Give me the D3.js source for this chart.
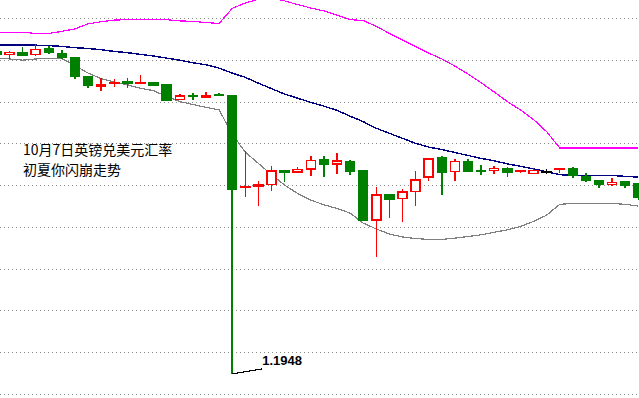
<!DOCTYPE html>
<html>
<head>
<meta charset="utf-8">
<script src="https://cdn.jsdelivr.net/npm/d3@7"></script>
<style>
  html, body { margin: 0; padding: 0; background: #fff; }
  svg { display: block; }
</style>
</head>
<body>
<svg id="chart" width="639" height="398"></svg>
<script>
// GBP/USD hourly bars around the 7 Oct flash crash
const opens = [
  1.2719, 1.2713, 1.2716, 1.2713, 1.2726, 1.2714, 1.2704, 1.2660, 1.2637, 1.2643,
  1.2648, 1.2643, 1.2645, 1.2640, 1.2605, 1.2614, 1.2611, 1.2617, 1.2614, 1.2394,
  1.2398, 1.2401, 1.2435, 1.2431, 1.2438, 1.2460, 1.2450, 1.2455, 1.2434, 1.2316,
  1.2376, 1.2368, 1.2385, 1.2419, 1.2466, 1.2433, 1.2455, 1.2434, 1.2435, 1.2439,
  1.2433, 1.2428, 1.2432, 1.2437, 1.2439, 1.2420, 1.2410, 1.2402, 1.2408, 1.2403
];
const highs = [
  1.2723, 1.2721, 1.2731, 1.2738, 1.2734, 1.2723, 1.2706, 1.2660, 1.2657, 1.2653,
  1.2656, 1.2664, 1.2645, 1.2640, 1.2618, 1.2621, 1.2623, 1.2620, 1.2616, 1.2482,
  1.2411, 1.2446, 1.2435, 1.2443, 1.2470, 1.2470, 1.2477, 1.2460, 1.2434, 1.2395,
  1.2376, 1.2391, 1.2434, 1.2466, 1.2470, 1.2463, 1.2463, 1.2448, 1.2445, 1.2443,
  1.2434, 1.2440, 1.2439, 1.2439, 1.2443, 1.2429, 1.2410, 1.2417, 1.2411, 1.2403
];
const lows = [
  1.2709, 1.2701, 1.2710, 1.2710, 1.2713, 1.2701, 1.2654, 1.2633, 1.2625, 1.2636,
  1.2632, 1.2642, 1.2637, 1.2603, 1.2605, 1.2604, 1.2611, 1.2614, 1.1948, 1.2372,
  1.2351, 1.2387, 1.2408, 1.2431, 1.2423, 1.2420, 1.2427, 1.2424, 1.2315, 1.2229,
  1.2322, 1.2312, 1.2351, 1.2411, 1.2377, 1.2411, 1.2431, 1.2425, 1.2427, 1.2420,
  1.2430, 1.2428, 1.2426, 1.2429, 1.2418, 1.2408, 1.2394, 1.2399, 1.2394, 1.2364
];
const closes = [
  1.2714, 1.2718, 1.2710, 1.2725, 1.2717, 1.2707, 1.2661, 1.2638, 1.2641, 1.2644,
  1.2645, 1.2645, 1.2640, 1.2604, 1.2613, 1.2613, 1.2613, 1.2614, 1.2391, 1.2396,
  1.2400, 1.2434, 1.2431, 1.2437, 1.2459, 1.2449, 1.2458, 1.2434, 1.2315, 1.2376,
  1.2367, 1.2383, 1.2412, 1.2462, 1.2430, 1.2457, 1.2434, 1.2432, 1.2440, 1.2431,
  1.2434, 1.2435, 1.2432, 1.2439, 1.2423, 1.2411, 1.2402, 1.2406, 1.2399, 1.2372
];

// Bollinger bands
const upperBand = [
  1.2766, 1.2766, 1.2766, 1.2763, 1.2763, 1.2768, 1.2774, 1.2786, 1.2791, 1.2795,
  1.2796, 1.2796, 1.2797, 1.2796, 1.2793, 1.2792, 1.2789, 1.2787, 1.2823, 1.2836,
  1.2845, 1.2848, 1.2841, 1.2832, 1.2824, 1.2817, 1.2807, 1.2796, 1.2794, 1.2780,
  1.2763, 1.2747, 1.2732, 1.2716, 1.2702, 1.2685, 1.2666, 1.2645, 1.2623, 1.2600,
  1.2580, 1.2557, 1.2528, 1.2489, 1.2489, 1.2489, 1.2489, 1.2489, 1.2489, 1.2489
];
const middleBand = [
  1.2735, 1.2735, 1.2735, 1.2735, 1.2734, 1.2732, 1.2729, 1.2727, 1.2724, 1.2720,
  1.2717, 1.2713, 1.2709, 1.2704, 1.2699, 1.2693, 1.2688, 1.2680, 1.2668, 1.2658,
  1.2644, 1.2631, 1.2618, 1.2608, 1.2598, 1.2589, 1.2579, 1.2565, 1.2552, 1.2536,
  1.2524, 1.2512, 1.2500, 1.2491, 1.2485, 1.2478, 1.2471, 1.2464, 1.2458, 1.2451,
  1.2445, 1.2439, 1.2432, 1.2425, 1.2423, 1.2423, 1.2423, 1.2423, 1.2421, 1.2419
];
const lowerBand = [
  1.2704, 1.2702, 1.2699, 1.2702, 1.2703, 1.2703, 1.2686, 1.2668, 1.2655, 1.2647,
  1.2640, 1.2632, 1.2626, 1.2612, 1.2600, 1.2593, 1.2586, 1.2580, 1.2522, 1.2479,
  1.2452, 1.2425, 1.2400, 1.2380, 1.2364, 1.2353, 1.2344, 1.2333, 1.2309, 1.2295,
  1.2283, 1.2276, 1.2272, 1.2270, 1.2270, 1.2273, 1.2277, 1.2281, 1.2287, 1.2293,
  1.2301, 1.2313, 1.2328, 1.2354, 1.2356, 1.2356, 1.2356, 1.2356, 1.2354, 1.2350
];

const gridLevels = [1.19, 1.20, 1.21, 1.22, 1.23, 1.24, 1.25, 1.26, 1.27, 1.28];
const titleLines = ["10月7日英镑兑美元汇率", "初夏你闪崩走势"];
const lowLabel = "1.1948";

const svg = d3.select("#chart");
const W = +svg.attr("width");

const x = d3.scaleLinear().domain([0, opens.length - 1]).range([-3.6, 638.3]);
const y = d3.scaleLinear().domain([1.19, 1.28]).range([394, 18]);

const bars = opens.map((o, i) => ({
  i: i, o: o, h: highs[i], l: lows[i], c: closes[i]
}));

function barColor(d) {
  if (d.c > d.o) return "#ff0000";
  if (d.c < d.o) return "#008000";
  return "#000000";
}

// dotted grid
svg.append("g")
  .attr("shape-rendering", "crispEdges")
  .selectAll("line")
  .data(gridLevels)
  .enter()
  .append("line")
  .attr("x1", 0).attr("x2", W)
  .attr("y1", d => Math.round(y(d)) + 0.5)
  .attr("y2", d => Math.round(y(d)) + 0.5)
  .attr("stroke", "#8a8a8a")
  .attr("stroke-width", 1)
  .attr("stroke-dasharray", "1,3");

// bands
const bandLine = arr => d3.line()
  .x((d, i) => x(i))
  .y(d => y(d))(arr);

svg.append("path")
  .attr("d", bandLine(upperBand))
  .attr("fill", "none")
  .attr("stroke", "#ff00ff")
  .attr("stroke-width", 1.2)
  .attr("shape-rendering", "crispEdges");

svg.append("path")
  .attr("d", bandLine(middleBand))
  .attr("fill", "none")
  .attr("stroke", "#000080")
  .attr("stroke-width", 1.4)
  .attr("shape-rendering", "crispEdges");

svg.append("path")
  .attr("d", bandLine(lowerBand))
  .attr("fill", "none")
  .attr("stroke", "#808080")
  .attr("stroke-width", 1.2)
  .attr("shape-rendering", "crispEdges");

// candles
const candle = svg.append("g")
  .attr("shape-rendering", "crispEdges")
  .selectAll("g")
  .data(bars)
  .enter()
  .append("g");

candle.append("line")
  .attr("x1", d => x(d.i)).attr("x2", d => x(d.i))
  .attr("y1", d => y(d.h)).attr("y2", d => y(d.l))
  .attr("stroke", barColor)
  .attr("stroke-width", 1.5);

candle.append("rect")
  .attr("x", d => x(d.i) - 4.5)
  .attr("width", 9)
  .attr("y", d => y(Math.max(d.o, d.c)))
  .attr("height", d => Math.max(0.5, Math.abs(y(d.o) - y(d.c))))
  .attr("fill", d => d.c > d.o ? "#ffffff" : barColor(d))
  .attr("stroke", barColor)
  .attr("stroke-width", 1.5);

// low annotation
const lowIdx = lows.indexOf(d3.min(lows));
const lx = x(lowIdx), ly = y(lows[lowIdx]);
svg.append("line")
  .attr("x1", lx).attr("y1", ly)
  .attr("x2", lx + 30).attr("y2", ly - 5)
  .attr("stroke", "#000")
  .attr("stroke-width", 1.2)
  .attr("shape-rendering", "crispEdges");

svg.append("text")
  .attr("x", lx + 30)
  .attr("y", ly - 9)
  .attr("font-family", "Liberation Sans, Arial, sans-serif")
  .attr("font-size", "13px")
  .attr("font-weight", "bold")
  .attr("fill", "#000")
  .text(lowLabel);

// title
svg.append("g")
  .selectAll("text")
  .data(titleLines)
  .enter()
  .append("text")
  .attr("x", 23)
  .attr("y", (d, i) => 155 + i * 20)
  .attr("font-family", "Noto Sans CJK SC, sans-serif")
  .attr("font-size", "14px")
  .attr("fill", "#000")
  .text(d => d);
</script>
</body>
</html>
